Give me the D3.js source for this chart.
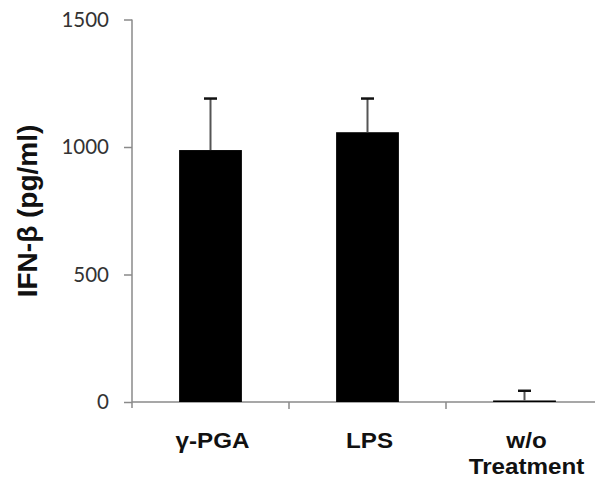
<!DOCTYPE html>
<html>
<head>
<meta charset="utf-8">
<script src="https://cdn.jsdelivr.net/npm/d3@7"></script>
<style>
  html, body { margin: 0; padding: 0; background: #fff; }
  svg { display: block; }
</style>
</head>
<body>
<svg id="chart" width="595" height="481"></svg>
<script>
// IFN-β secretion per treatment (mean and upper error value, pg/ml)
const categories = ["γ-PGA", "LPS", "w/o\nTreatment"];
const means = [988, 1058, 6];
const errorTops = [1190, 1190, 44];
const yTicks = [0, 500, 1000, 1500];

const svg = d3.select("#chart");

const x = d3.scaleBand()
  .domain(categories)
  .range([132, 603])
  .paddingInner(0.6)
  .paddingOuter(0.3);

const y = d3.scaleLinear()
  .domain([0, 1500])
  .range([402, 19.5]);

// y axis
const yAxis = svg.append("g")
  .attr("transform", "translate(132,0)")
  .call(d3.axisLeft(y).tickValues(yTicks).tickSize(8).tickPadding(15).tickFormat(d3.format("d")));
yAxis.select(".domain").attr("stroke", "#8a8a8a").attr("stroke-width", 1.5)
  .attr("d", `M0,${y(1500)}V${y(0) + 6}`);
yAxis.selectAll(".tick line").attr("stroke", "#8a8a8a").attr("stroke-width", 1.5);
yAxis.selectAll(".tick text")
  .attr("font-family", "Lato, 'Open Sans', sans-serif")
  .attr("font-size", "20.5px")
  .attr("fill", "#333");

// x axis with tick marks between categories
const xAxis = svg.append("g").attr("transform", `translate(0,${y(0)})`);
xAxis.append("line")
  .attr("x1", 132).attr("x2", 595)
  .attr("stroke", "#8a8a8a").attr("stroke-width", 1.5);
const step = x.step();
const boundaries = d3.range(1, categories.length).map(i => 132 + i * step);
xAxis.selectAll("line.sep")
  .data(boundaries)
  .join("line")
  .attr("class", "sep")
  .attr("x1", d => d).attr("x2", d => d)
  .attr("y1", 0).attr("y2", 7)
  .attr("stroke", "#8a8a8a").attr("stroke-width", 1.5);

// bars
svg.selectAll("rect.bar")
  .data(categories)
  .join("rect")
  .attr("class", "bar")
  .attr("x", d => x(d))
  .attr("width", x.bandwidth())
  .attr("y", (d, i) => y(means[i]))
  .attr("height", (d, i) => y(0) - y(means[i]))
  .attr("fill", "#000");

// error bars (upper only)
const err = svg.selectAll("g.err")
  .data(categories)
  .join("g")
  .attr("class", "err")
  .attr("transform", d => `translate(${x(d) + x.bandwidth() / 2},0)`);
err.append("line")
  .attr("y1", (d, i) => y(means[i]))
  .attr("y2", (d, i) => y(errorTops[i]))
  .attr("stroke", "#555").attr("stroke-width", 2);
err.append("line")
  .attr("x1", -6.5).attr("x2", 6.5)
  .attr("y1", (d, i) => y(errorTops[i]))
  .attr("y2", (d, i) => y(errorTops[i]))
  .attr("stroke", "#111").attr("stroke-width", 2.5);

// category labels
svg.selectAll("text.cat")
  .data(categories)
  .join("text")
  .attr("class", "cat")
  .attr("transform", d => `translate(${x(d) + x.bandwidth() / 2 + 2},448) scale(1.1,1)`)
  .attr("text-anchor", "middle")
  .attr("font-family", "Arial, 'Liberation Sans', sans-serif")
  .attr("font-weight", "bold")
  .attr("font-size", "22px")
  .attr("fill", "#111")
  .each(function(d) {
    const lines = d.split("\n");
    d3.select(this).selectAll("tspan")
      .data(lines)
      .join("tspan")
      .attr("x", 0)
      .attr("dy", (l, i) => i === 0 ? 0 : 26)
      .text(l => l);
  });

// y axis title
svg.append("text")
  .attr("transform", "translate(37,211) rotate(-90)")
  .attr("text-anchor", "middle")
  .attr("font-family", "Arial, 'Liberation Sans', sans-serif")
  .attr("font-weight", "bold")
  .attr("font-size", "28px")
  .attr("fill", "#111")
  .text("IFN-β (pg/ml)");
</script>
</body>
</html>
